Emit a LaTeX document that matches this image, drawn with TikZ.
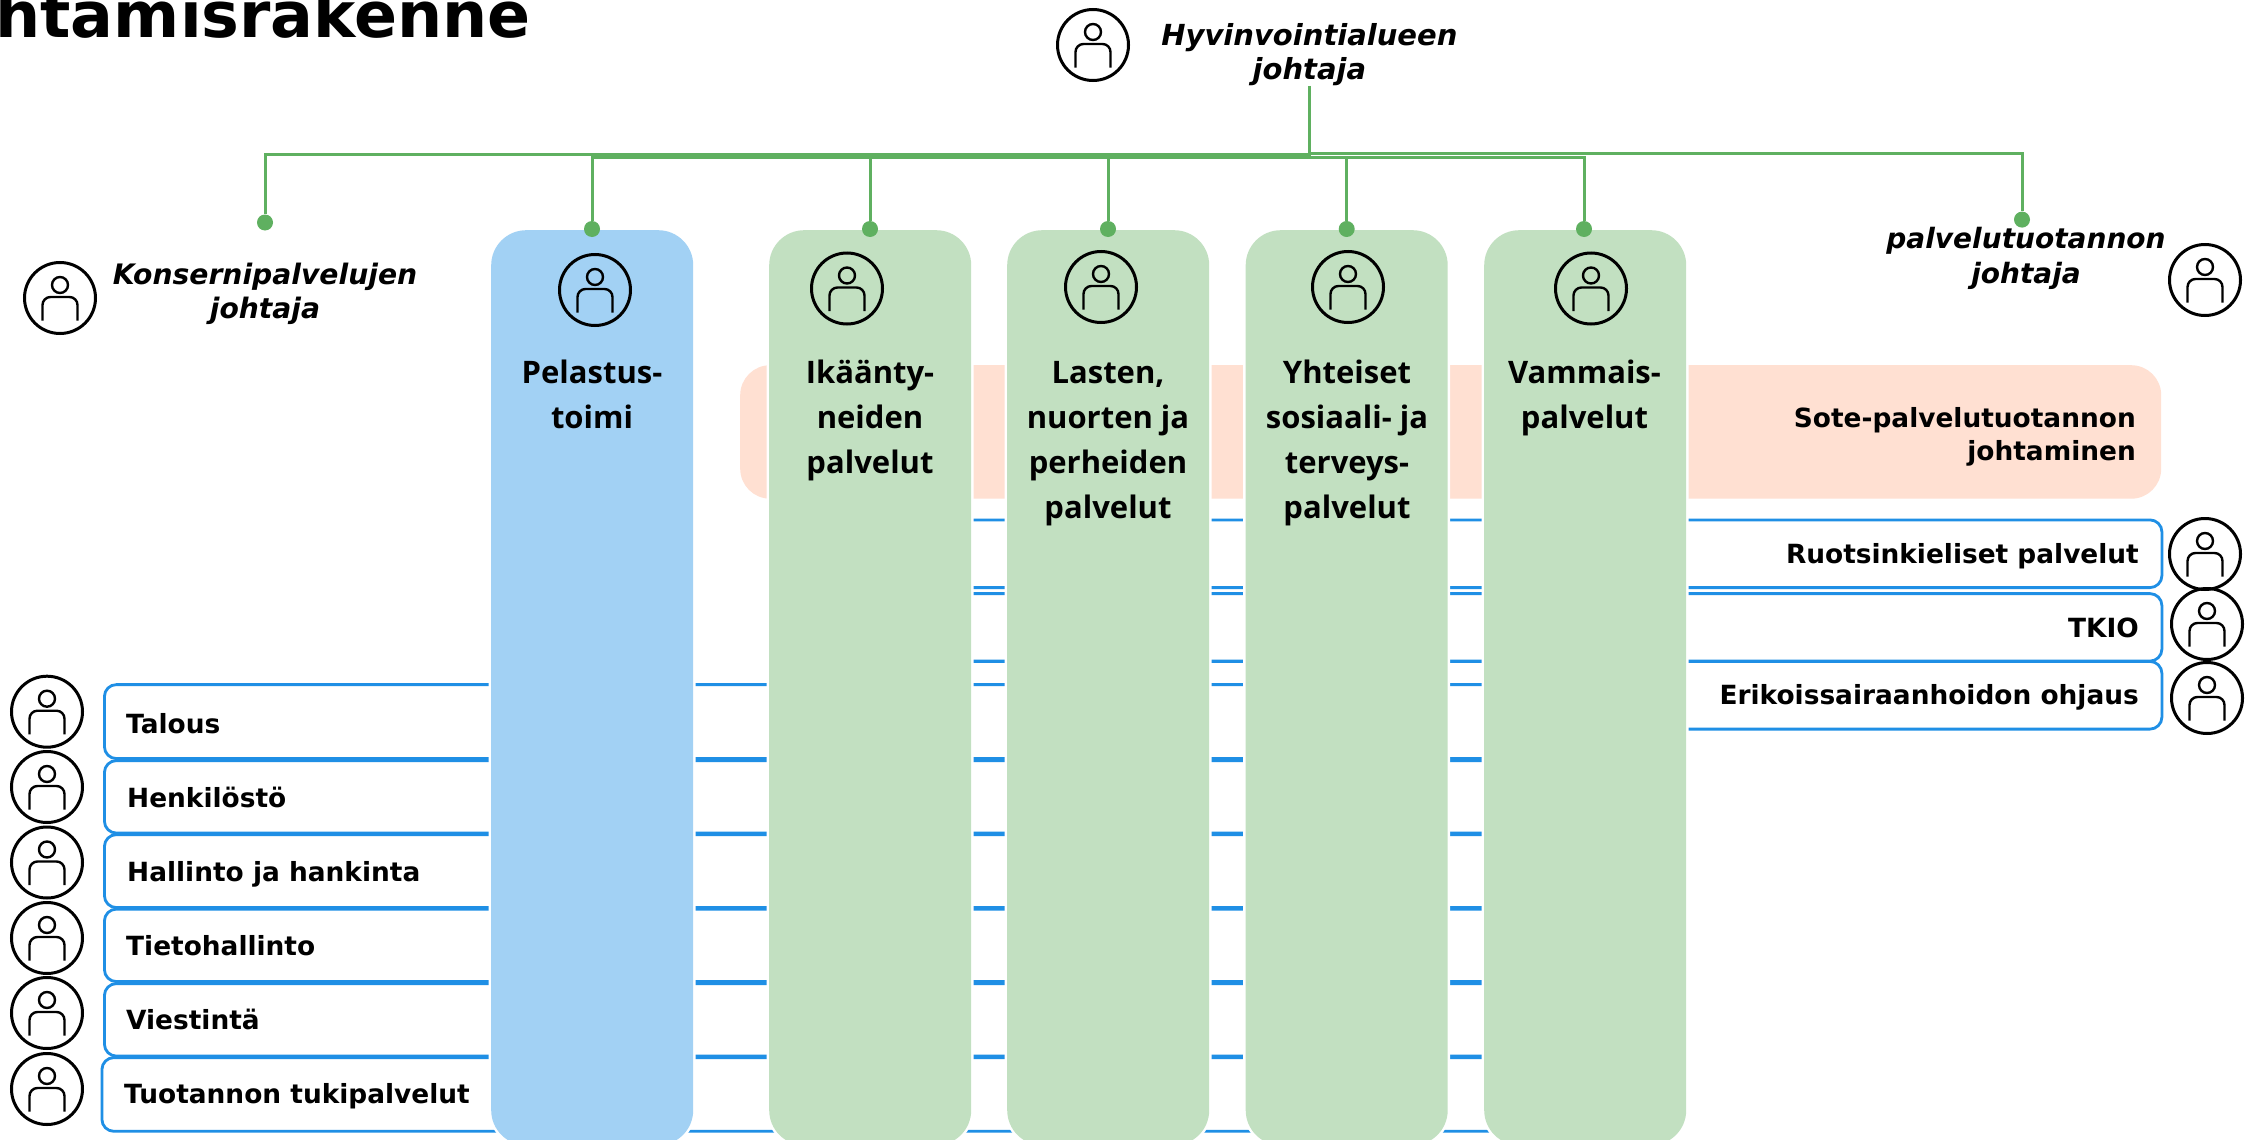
\documentclass[tikz,border=0pt]{standalone}
\usepackage{fontspec}
\setmainfont{DejaVu Sans}
\newfontfamily\colfont{Open Sans}
\definecolor{colblue}{HTML}{A2D1F4}
\definecolor{colgreen}{HTML}{C2E0C1}
\definecolor{peach}{HTML}{FFE0D2}
\definecolor{lineblue}{HTML}{1F8FE5}
\definecolor{linegreen}{HTML}{5FB060}
\tikzset{
  column/.style={rectangle,rounded corners=35pt,minimum width=#1,minimum height=915pt,anchor=north west,inner sep=0pt,
    preaction={draw=white,line width=5pt}},
  bluecol/.style={column=202pt,fill=colblue},
  greencol/.style={column=202pt,fill=colgreen},
  peachbox/.style={rectangle,rounded corners=30pt,fill=peach,anchor=north west,inner sep=0pt},
  bluebox/.style={rectangle,rounded corners=12pt,draw=lineblue,line width=2.8pt,fill=white,anchor=north west,inner sep=0pt},
  coltext/.style={anchor=north,align=center,inner sep=0pt,text=black,font=\colfont\bfseries\fontsize{31}{45}\selectfont},
  chief/.style={anchor=north,align=center,inner sep=0pt,font=\bfseries\itshape\fontsize{#1}{34.5}\selectfont},
  boxtext/.style={inner sep=0pt,font=\bfseries\fontsize{26.4}{30}\selectfont},
  sotetext/.style={anchor=north east,align=right,inner sep=0pt,font=\bfseries\fontsize{26.4}{33}\selectfont},
  titletext/.style={anchor=base east,inner sep=0pt,font=\bfseries\fontsize{63.5}{70}\selectfont},
  dot/.style={circle,fill=linegreen,minimum size=16pt,inner sep=0pt},
  conn/.style={draw=linegreen,line width=3pt},
  person/.pic={
    \draw[line width=3pt] (0,0) circle (35.5pt);
    \draw[line width=2.4pt] (0,-13) circle (8pt);
    \draw[line width=2.4pt,rounded corners=8pt] (-17.5,22.7) -- (-17.5,-1) -- (17.5,-1) -- (17.5,22.7);
  }
}
\begin{document}
\begin{tikzpicture}[x=1pt,y=-1pt]
\clip (0,0) rectangle (2255,1140);
\fill[white] (0,0) rectangle (2255,1140);
% title
\node[titletext] (title) at (531,38) {htamisrakenne};
% peach band
\node[peachbox,minimum width=1421pt,minimum height=133.5pt] (sote) at (740,365) {};
% right boxes
\node[bluebox,minimum width=1260.5pt,minimum height=67.7pt] (ruots) at (900,518.5) {};
\node[bluebox,minimum width=1260.5pt,minimum height=67.5pt] (tkio) at (900,592.2) {};
\node[bluebox,minimum width=1260.5pt,minimum height=67.7pt] (erik) at (900,660) {};
% left boxes
\node[bluebox,minimum width=1537pt,minimum height=74pt] (talous) at (103,683.2) {};
\node[bluebox,minimum width=1537pt,minimum height=72.5pt] (henk) at (103,759.2) {};
\node[bluebox,minimum width=1537pt,minimum height=73pt] (hall) at (103,833.2) {};
\node[bluebox,minimum width=1537pt,minimum height=72.5pt] (tieto) at (103,907.7) {};
\node[bluebox,minimum width=1537pt,minimum height=72.5pt] (vies) at (103,982.2) {};
\node[bluebox,minimum width=1539.5pt,minimum height=73.7pt] (tuki) at (100.5,1056.2) {};
% columns
\node[bluecol] (pel) at (491,230) {};
\node[greencol] (ika) at (769,230) {};
\node[greencol] (las) at (1007,230) {};
\node[greencol] (yht) at (1245.5,230) {};
\node[greencol] (vam) at (1484,230) {};
% column texts
\node[coltext] (tpel) at (592,352) {\strut Pelastus-\\toimi};
\node[coltext] (tika) at (870,352) {\strut Ikäänty-\\neiden\\palvelut};
\node[coltext] (tlas) at (1108,352) {\strut Lasten,\\nuorten ja\\perheiden\\palvelut};
\node[coltext] (tyht) at (1347,352) {\strut Yhteiset\\sosiaali- ja\\terveys-\\palvelut};
\node[coltext] (tvam) at (1584.5,352) {\strut Vammais-\\palvelut};
% chiefs
\node[chief=29] (hyv) at (1309.4,21) {\strut Hyvinvointialueen\\johtaja};
\node[chief=28.2] (kon) at (265,260) {\strut Konsernipalvelujen\\johtaja};
\node[chief=28] (pal) at (2026,224.5) {\strut palvelutuotannon\\johtaja};
% box texts
\node[sotetext] (tsote) at (2136,404) {\strut Sote-palvelutuotannon\\johtaminen};
\node[boxtext,anchor=base east] (truots) at (2139,563.5) {Ruotsinkieliset palvelut};
\node[boxtext,anchor=base east] (ttkio) at (2139,637.2) {TKIO};
\node[boxtext,anchor=base east] (terik) at (2139,704.8) {Erikoissairaanhoidon ohjaus};
\node[boxtext,anchor=base west] (ttal) at (126,733.2) {Talous};
\node[boxtext,anchor=base west] (thenk) at (127,807.2) {Henkilöstö};
\node[boxtext,anchor=base west] (thall) at (127,881.2) {Hallinto ja hankinta};
\node[boxtext,anchor=base west] (ttieto) at (126,955.5) {Tietohallinto};
\node[boxtext,anchor=base west] (tvies) at (126,1029.5) {Viestintä};
\node[boxtext,anchor=base west] (ttuki) at (124,1103.5) {Tuotannon tukipalvelut};
% persons
\pic at (1093,45) {person};
\pic at (60,298) {person};
\pic at (595,290) {person};
\pic at (847,288.5) {person};
\pic at (1101,287) {person};
\pic at (1348,287) {person};
\pic at (1591,288.5) {person};
\pic at (2205,280) {person};
\pic at (2205,554) {person};
\pic at (2207,624) {person};
\pic at (2207,698) {person};
\pic at (47,711.7) {person};
\pic at (47,787) {person};
\pic at (47,862.5) {person};
\pic at (47,938) {person};
\pic at (47,1013) {person};
\pic at (47,1089) {person};
% connectors
\coordinate (boss) at (1309.4,86);
\coordinate (busR) at (1309.4,153.5);
\coordinate (busL) at (1309.4,154.5);
\coordinate (busC) at (1309.4,157.5);
\node[dot] (dkon) at (265,222.5) {};
\node[dot] (dpel) at (592,229) {};
\node[dot] (dika) at (870,229) {};
\node[dot] (dlas) at (1108,229) {};
\node[dot] (dyht) at (1346.7,229) {};
\node[dot] (dvam) at (1584,229) {};
\node[dot] (dpal) at (2022,219.6) {};
\draw[conn] (boss) -- (busC);
\draw[conn] (busR) -| (dpal);
\draw[conn] (busL) -| (dkon);
\draw[conn] (busC) -| (dpel);
\draw[conn] (busC) -| (dika);
\draw[conn] (busC) -| (dlas);
\draw[conn] (busC) -| (dyht);
\draw[conn] (busC) -| (dvam);
\end{tikzpicture}
\end{document}
